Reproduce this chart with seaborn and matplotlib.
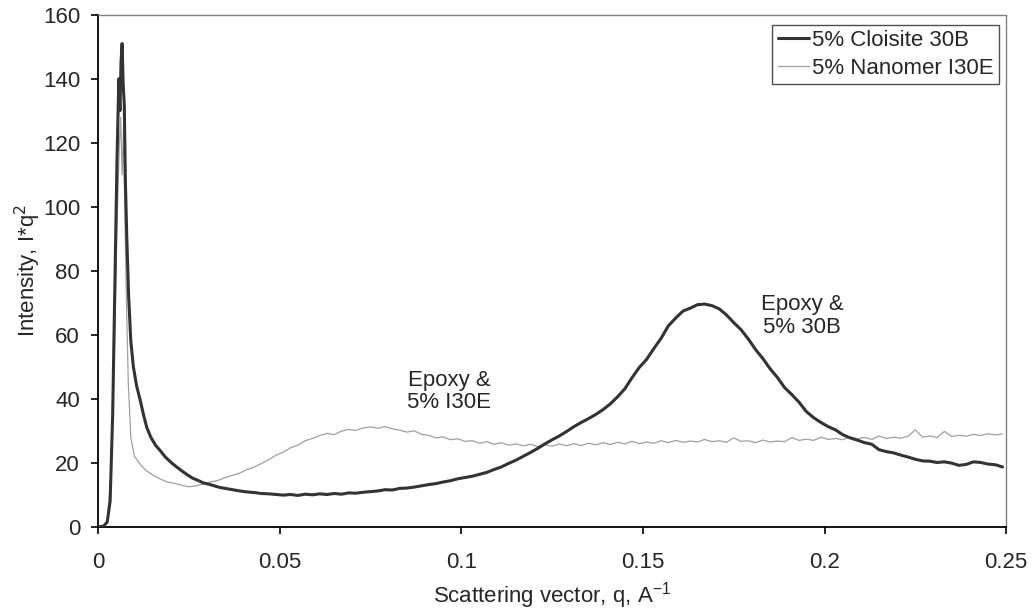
import matplotlib
matplotlib.use("Agg")
import matplotlib.pyplot as plt
import seaborn as sns
import pandas as pd

# data
q_30b = [0.000, 0.0015, 0.0025, 0.0033, 0.0040, 0.0046, 0.0052, 0.0057, 0.0060, 0.0063,
         0.0066, 0.0069, 0.0072, 0.0075, 0.0079, 0.0084, 0.0090, 0.0097, 0.0106, 0.0116,
         0.0125, 0.0134, 0.0145, 0.0158, 0.0171, 0.0185, 0.0200, 0.0215, 0.0230, 0.0245,
         0.0260, 0.0275, 0.0290, 0.0305, 0.0320, 0.0335, 0.0350, 0.0370, 0.0390, 0.0410,
         0.0430, 0.0450, 0.0470, 0.0490, 0.0510, 0.0530, 0.0550, 0.0570, 0.0590, 0.0610,
         0.0630, 0.0650, 0.0670, 0.0690, 0.0710, 0.0730, 0.0750, 0.0770, 0.0790, 0.0810,
         0.0830, 0.0850, 0.0870, 0.0890, 0.0910, 0.0930, 0.0950, 0.0970, 0.0990, 0.1010,
         0.1030, 0.1050, 0.1070, 0.1090, 0.1110, 0.1130, 0.1150, 0.1170, 0.1190, 0.1210,
         0.1230, 0.1250, 0.1270, 0.1290, 0.1310, 0.1330, 0.1350, 0.1370, 0.1390, 0.1410,
         0.1430, 0.1450, 0.1470, 0.1490, 0.1510, 0.1530, 0.1550, 0.1570, 0.1590, 0.1610,
         0.1630, 0.1650, 0.1670, 0.1690, 0.1710, 0.1730, 0.1750, 0.1770, 0.1790, 0.1810,
         0.1830, 0.1850, 0.1870, 0.1890, 0.1910, 0.1930, 0.1950, 0.1970, 0.1990, 0.2010,
         0.2030, 0.2050, 0.2070, 0.2090, 0.2110, 0.2130, 0.2150, 0.2170, 0.2190, 0.2210,
         0.2230, 0.2250, 0.2270, 0.2290, 0.2310, 0.2330, 0.2350, 0.2370, 0.2390, 0.2410,
         0.2430, 0.2450, 0.2470, 0.2490]
i_30b = [0, 0.2, 1.5, 8, 35, 75, 115, 140, 130, 145,
         151, 138, 132, 108, 90, 72, 58, 50, 44, 39.5,
         35, 31, 28, 25.5, 23.8, 21.8, 20.2, 18.8, 17.5, 16.3,
         15.2, 14.5, 13.7, 13.3, 12.8, 12.3, 12, 11.6, 11.2, 10.9,
         10.7, 10.4, 10.3, 10.1, 9.9, 10.1, 9.8, 10.2, 10, 10.3,
         10.1, 10.4, 10.2, 10.6, 10.5, 10.8, 11, 11.2, 11.6, 11.5,
         12, 12.1, 12.4, 12.8, 13.2, 13.5, 14, 14.4, 15, 15.4,
         15.8, 16.4, 17, 17.9, 18.7, 19.8, 20.8, 22, 23.2, 24.5,
         25.9, 27.2, 28.4, 29.8, 31.3, 32.6, 33.8, 35.1, 36.6, 38.4,
         40.6, 43.1, 46.6, 49.8, 52.3, 55.7, 58.9, 62.8, 65.2, 67.4,
         68.3, 69.4, 69.6, 69.1, 68.1, 66.2, 63.8, 61.6, 58.7, 55.4,
         52.6, 49.4, 46.7, 43.5, 41.3, 38.9, 36, 34.1, 32.6, 31.3,
         30.3, 28.8, 27.8, 27.1, 26.3, 25.8, 24.1, 23.5, 23.1, 22.4,
         21.8, 21.1, 20.6, 20.5, 20.1, 20.3, 19.9, 19.2, 19.5, 20.3,
         20.1, 19.6, 19.4, 18.7]

q_i30e = [0.000, 0.0015, 0.0025, 0.0035, 0.0045, 0.0052, 0.0058, 0.0062, 0.0066, 0.0070,
          0.0074, 0.0078, 0.0083, 0.0090, 0.0100, 0.0116, 0.0130, 0.0150, 0.0170, 0.0190,
          0.0210, 0.0230, 0.0250, 0.0270, 0.0290, 0.0310, 0.0330, 0.0350, 0.0370, 0.0390,
          0.0410, 0.0430, 0.0450, 0.0470, 0.0490, 0.0510, 0.0530, 0.0550, 0.0570, 0.0590,
          0.0610, 0.0630, 0.0650, 0.0670, 0.0690, 0.0710, 0.0730, 0.0750, 0.0770, 0.0790,
          0.0810, 0.0830, 0.0850, 0.0870, 0.0890, 0.0910, 0.0930, 0.0950, 0.0970, 0.0990,
          0.1010, 0.1030, 0.1050, 0.1070, 0.1090, 0.1110, 0.1130, 0.1150, 0.1170, 0.1190,
          0.1210, 0.1230, 0.1250, 0.1270, 0.1290, 0.1310, 0.1330, 0.1350, 0.1370, 0.1390,
          0.1410, 0.1430, 0.1450, 0.1470, 0.1490, 0.1510, 0.1530, 0.1550, 0.1570, 0.1590,
          0.1610, 0.1630, 0.1650, 0.1670, 0.1690, 0.1710, 0.1730, 0.1750, 0.1770, 0.1790,
          0.1810, 0.1830, 0.1850, 0.1870, 0.1890, 0.1910, 0.1930, 0.1950, 0.1970, 0.1990,
          0.2010, 0.2030, 0.2050, 0.2070, 0.2090, 0.2110, 0.2130, 0.2150, 0.2170, 0.2190,
          0.2210, 0.2230, 0.2250, 0.2270, 0.2290, 0.2310, 0.2330, 0.2350, 0.2370, 0.2390,
          0.2410, 0.2430, 0.2450, 0.2470, 0.2490]
i_i30e = [0, 0.3, 2, 15, 55, 95, 118, 128, 110, 125,
          95, 70, 45, 28, 22, 19.5, 17.8, 16.2, 15, 14,
          13.6, 13, 12.5, 12.8, 13.4, 14, 14.5, 15.4, 16.1, 16.8,
          17.9, 18.7, 19.8, 21, 22.4, 23.3, 24.7, 25.5, 26.9, 27.6,
          28.5, 29.2, 28.8, 29.9, 30.4, 30.1, 30.9, 31.2, 30.8, 31.3,
          30.6, 30.2, 29.6, 30, 28.9, 28.6, 27.8, 28.1, 27.2, 27.5,
          26.7, 26.9, 26.1, 26.6, 25.8, 26.3, 25.5, 25.9, 25.3, 25.8,
          25.1, 25.6, 25.2, 25.9, 25.3, 26, 25.4, 26.1, 25.6, 26.3,
          25.7, 26.4, 25.9, 26.7, 26, 26.5, 26.1, 26.9, 26.3, 27,
          26.4, 26.8, 26.5, 27.3, 26.6, 26.9, 26.4, 27.8, 26.7, 26.9,
          26.3, 27.1, 26.5, 26.8, 26.6, 27.9, 27, 27.4, 27, 28,
          27.3, 27.6, 27.2, 28.1, 27.5, 27.9, 27.3, 28.4, 27.6, 28,
          27.7, 28.3, 30.3, 28, 28.4, 27.9, 29.8, 28.2, 28.6, 28.3,
          28.9, 28.5, 29.1, 28.7, 29]

x_ticks = [0, 0.05, 0.1, 0.15, 0.2, 0.25]
x_ticklabels = ["0", "0.05", "0.1", "0.15", "0.2", "0.25"]
y_ticks = [0, 20, 40, 60, 80, 100, 120, 140, 160]

sns.set_style("ticks")
plt.rcParams['font.family'] = ['Liberation Sans', 'DejaVu Sans']
fs = 16

fig, ax = plt.subplots(figsize=(10.33, 6.14), dpi=100)
fig.subplots_adjust(left=0.095, right=0.974, bottom=0.142, top=0.976)

sns.lineplot(x=q_i30e, y=i_i30e, ax=ax, color="#a0a0a0", linewidth=0.9,
             sort=False, estimator=None, label="5% Nanomer I30E", zorder=2)
sns.lineplot(x=q_30b, y=i_30b, ax=ax, color="#333333", linewidth=2.2,
             sort=False, estimator=None, label="5% Cloisite 30B", zorder=3)

ax.set_xlim(0, 0.25)
ax.set_ylim(0, 160)
ax.set_xticks(x_ticks)
ax.set_xticklabels(x_ticklabels)
ax.set_yticks(y_ticks)
ax.tick_params(labelsize=fs, direction="out", length=5, width=1.2, color="black")
ax.tick_params(axis="x", pad=13)
ax.tick_params(axis="y", pad=8)
ax.set_xlabel("Scattering vector, q, A$^{\\mathregular{-1}}$", fontsize=fs, labelpad=5)
ax.set_ylabel("Intensity, I*q$^2$", fontsize=fs)
ax.yaxis.set_label_coords(-0.061, 0.5)

for side in ["left", "bottom"]:
    ax.spines[side].set_color("black")
    ax.spines[side].set_linewidth(1.3)
for side in ["top", "right"]:
    ax.spines[side].set_visible(True)
    ax.spines[side].set_color("#808080")
    ax.spines[side].set_linewidth(1.0)

ax.text(0.0966, 42.3, "Epoxy &\n5% I30E", fontsize=fs, ha="center", va="center", linespacing=1.1)
ax.text(0.1938, 65.8, "Epoxy &\n5% 30B", fontsize=fs, ha="center", va="center", linespacing=1.1)

handles, labels = ax.get_legend_handles_labels()
leg = ax.legend(handles[::-1], labels[::-1], loc="upper right", bbox_to_anchor=(0.9923, 0.9805),
                fontsize=fs, frameon=True, fancybox=False, handlelength=1.4,
                handletextpad=0.15, borderpad=0.25, labelspacing=0.3, borderaxespad=0)
leg.get_frame().set_edgecolor("#222222")
leg.get_frame().set_linewidth(1.0)

plt.savefig("out.png", dpi=100)
